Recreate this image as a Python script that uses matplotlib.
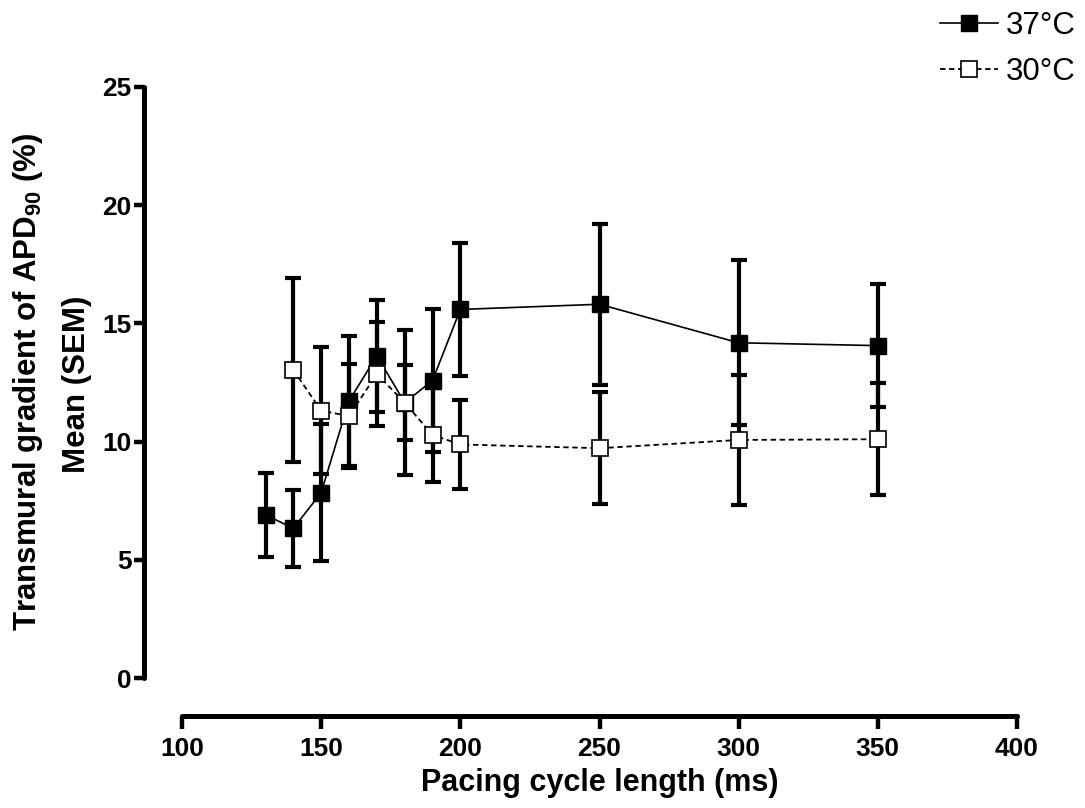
import matplotlib
matplotlib.use("Agg")
import matplotlib.pyplot as plt
import numpy as np

plt.rcParams['font.family'] = ['Liberation Sans', 'DejaVu Sans']
plt.rcParams['mathtext.fontset'] = 'custom'
plt.rcParams['mathtext.rm'] = 'Liberation Sans:bold'
plt.rcParams['mathtext.default'] = 'rm'

# pacing cycle length (ms)
cycle_37 = [130, 140, 150, 160, 170, 180, 190, 200, 250, 300, 350]
mean_37 = [6.90, 6.33, 7.84, 11.72, 13.63, 11.65, 12.58, 15.59, 15.81, 14.18, 14.06]
sem_37 = [1.78, 1.63, 2.90, 2.75, 2.36, 1.60, 3.03, 2.80, 3.40, 3.49, 2.60]

cycle_30 = [140, 150, 160, 170, 180, 190, 200, 250, 300, 350]
mean_30 = [13.03, 11.31, 11.08, 12.86, 11.65, 10.28, 9.88, 9.72, 10.07, 10.10]
sem_30 = [3.88, 2.68, 2.19, 2.20, 3.05, 1.97, 1.87, 2.37, 2.75, 2.36]

xticks = [100, 150, 200, 250, 300, 350, 400]
yticks = [0, 5, 10, 15, 20, 25]

W, H = 1085, 808
fig = plt.figure(figsize=(W / 100, H / 100), dpi=100)
ax = fig.add_axes([182 / W, (H - 678) / H, (1017 - 182) / W, (678 - 87) / H])

# error bars first
for x, m, s in [(cycle_37, mean_37, sem_37), (cycle_30, mean_30, sem_30)]:
    ax.errorbar(x, m, yerr=s, fmt='none', ecolor='black', elinewidth=3,
                capsize=6, capthick=3, zorder=2, clip_on=False)

l37, = ax.plot(cycle_37, mean_37, color='black', lw=1.2, marker='s',
               ms=11.5, mfc='black', mec='black', zorder=4, clip_on=False,
               label='37°C')
l30, = ax.plot(cycle_30, mean_30, color='black', lw=1.3, ls=(0, (3, 2)),
               marker='s', ms=11.5, mfc='white', mec='black', mew=1.2,
               zorder=5, clip_on=False, label='30°C')

ax.set_xlim(100, 400)
ax.set_ylim(0, 25)
ax.set_xticks(xticks)
ax.set_yticks(yticks)

for side in ['top', 'right']:
    ax.spines[side].set_visible(False)
ax.spines['left'].set_position(('outward', 38 * 0.72))
ax.spines['bottom'].set_position(('outward', 38 * 0.72))
ax.spines['left'].set_bounds(0, 25)
ax.spines['bottom'].set_bounds(100, 400)
for side in ['left', 'bottom']:
    ax.spines[side].set_linewidth(3.6)
    ax.spines[side].set_capstyle('round')

ax.tick_params(axis='y', length=7, width=3.2, pad=2)
ax.tick_params(axis='x', length=9, width=3.2, pad=6)
for lab in ax.get_xticklabels() + ax.get_yticklabels():
    lab.set_fontsize(19)
    lab.set_fontweight('bold')

ax.set_xlabel('Pacing cycle length (ms)', fontsize=22, fontweight='bold',
              labelpad=5)

fig.text(28 / W, (H - 382) / H, 'Transmural gradient of APD$_{90}$ (%)',
         rotation=90, ha='center', va='center', fontsize=22.5,
         fontweight='bold')
fig.text(77 / W, (H - 384) / H, 'Mean (SEM)', rotation=90, ha='center',
         va='center', fontsize=22.5, fontweight='bold')

fig.legend(handles=[l37, l30], loc='upper left',
           bbox_to_anchor=(940 / W, (H - 11) / H), frameon=False,
           fontsize=22.5, numpoints=1, handlelength=1.85, handletextpad=0.26,
           labelspacing=0.5, borderpad=0, borderaxespad=0)

fig.savefig('out.png', dpi=100)
